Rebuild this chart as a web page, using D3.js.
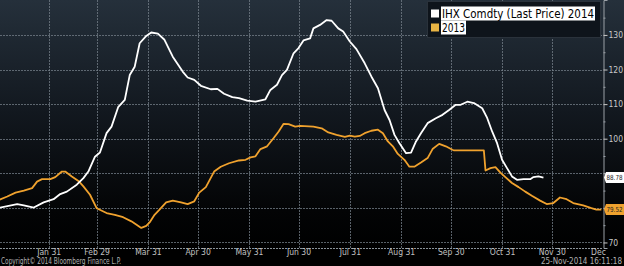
<!DOCTYPE html>
<html>
<head>
<meta charset="utf-8">
<script src="https://cdn.jsdelivr.net/npm/d3@7"></script>
<style>
  html, body { margin: 0; padding: 0; background: #000; }
  svg { display: block; }
  text { font-family: "Liberation Sans Narrow", "Arial Narrow", "DejaVu Sans Condensed", sans-serif; }
</style>
</head>
<body>
<svg id="chart" width="624" height="266"></svg>
<script>
// ---- Data (seasonal axis uses a leap year, hence "Feb 29") ----
const dates2014 = ["01-01","01-12","01-16","01-22","01-28","02-03","02-07","02-11","02-17","02-21","02-24","02-28",
  "03-02","03-06","03-09","03-13","03-17","03-20","03-23","03-26","03-30","04-02","04-06","04-10","04-15","04-21",
  "04-24","04-28","05-02","05-08","05-12","05-16","05-21","05-25","05-30","06-04","06-10","06-13","06-17","06-20",
  "06-23","06-27","06-30","07-03","07-07","07-09","07-13","07-17","07-20","07-24","07-27","07-31","08-04","08-09",
  "08-13","08-17","08-21","08-24","08-27","08-30","09-03","09-06","09-09","09-12","09-16","09-21","09-25","09-29",
  "10-03","10-06","10-10","10-14","10-19","10-22","10-25","10-28","10-31","11-03","11-06","11-09","11-13","11-17",
  "11-19","11-22","11-25"];
const values2014 = [80.0,81.1,80.7,80.1,81.6,82.5,84.0,84.7,86.7,88.6,90.5,94.8,
  96.0,101.6,103.5,109.1,111.2,118.4,120.8,127.6,129.7,130.7,130.4,128.6,123.7,119.4,
  117.7,117.0,115.3,114.3,114.4,113.0,112.0,111.7,111.0,110.7,111.4,114.1,115.6,118.4,
  119.9,124.7,126.2,128.4,129.0,131.9,132.9,134.3,134.1,131.9,131.0,128.1,125.9,121.8,
  118.0,114.6,108.3,105.4,101.1,98.7,95.8,96.0,99.2,101.6,104.5,105.9,106.9,108.3,
  109.8,109.8,110.7,110.3,108.8,106.0,102.1,98.7,93.9,91.5,89.1,88.1,88.3,88.3,
  88.9,89.1,88.78];

const dates2013 = ["01-01","01-06","01-11","01-16","01-21","01-24","01-27","02-01","02-04","02-08","02-10","02-14",
  "02-18","02-21","02-25","02-29","03-06","03-11","03-16","03-21","03-27","03-30","04-01","04-04","04-07","04-11",
  "04-15","04-20","04-24","04-28","05-01","05-05","05-10","05-14","05-19","05-25","05-29","06-01","06-04","06-07",
  "06-11","06-15","06-18","06-21","06-24","06-28","07-01","07-09","07-14","07-18","07-23","07-28","07-31","08-03",
  "08-06","08-09","08-13","08-17","08-20","08-23","08-26","08-29","09-02","09-05","09-08","09-12","09-16","09-19",
  "09-23","09-27","10-01","10-02","10-20","10-21","10-24","10-27","10-30","11-02","11-06","11-10","11-14","11-18",
  "11-23","11-27","12-01","12-05","12-09","12-13","12-19","12-24","12-27","12-30"];
const values2013 = [82.3,83.3,84.4,85.0,85.7,87.6,88.3,88.3,88.9,90.5,90.5,89.1,
  87.8,86.2,83.8,79.9,78.5,78.0,77.3,76.1,74.2,74.8,75.8,78.0,79.5,81.6,
  82.1,81.6,81.1,81.9,84.4,86.0,90.5,91.9,92.9,93.7,93.9,94.6,94.9,97.0,
  97.8,100.2,102.1,104.3,104.2,103.5,103.7,103.5,103.0,101.8,101.1,100.5,100.9,100.6,
  100.8,101.6,102.3,102.6,101.6,99.2,97.8,95.6,93.9,91.9,91.9,93.1,94.4,97.0,
  98.5,97.8,96.8,96.6,96.6,90.8,91.5,91.8,90.2,88.9,87.2,86.0,84.7,83.5,
  82.1,81.1,81.4,83.0,82.5,81.4,80.7,79.9,79.5,79.52];

const xTickDates = ["01-31","02-29","03-31","04-30","05-31","06-30","07-31","08-31","09-30","10-31","11-30","12-31"];
const xTickLabels = ["Jan 31","Feb 29","Mar 31","Apr 30","May 31","Jun 30","Jul 31","Aug 31","Sep 30","Oct 31","Nov 30","Dec"];
const yMajorTicks = [70, 80, 90, 100, 110, 120, 130];
const yLabelTicks = [70, 100, 110, 120, 130];
const yMinorTicks = [75, 85, 95, 105, 115, 125, 135];
const seriesNames = ["IHX Comdty (Last Price) 2014", "2013"];
const seriesColors = ["#ffffff", "#f0a22e"];
const lastLabels = ["88.78", "79.52"];

// ---- Drawing ----
const parse = d3.timeParse("%Y-%m-%d");
const P = s => parse("2012-" + s);
const W = 624, H = 266;
const plotRight = 603, plotBottom = 248;

const svg = d3.select("#chart");

const defs = svg.append("defs");
const grad = defs.append("linearGradient").attr("id", "bg").attr("x1", 0).attr("y1", 0).attr("x2", 0).attr("y2", 1);
grad.append("stop").attr("offset", "0%").attr("stop-color", "#25303b");
grad.append("stop").attr("offset", "45%").attr("stop-color", "#12181f");
grad.append("stop").attr("offset", "85%").attr("stop-color", "#030405");
grad.append("stop").attr("offset", "100%").attr("stop-color", "#000000");

svg.append("rect").attr("width", W).attr("height", H).attr("fill", "#000");
svg.append("rect").attr("x", 0).attr("y", 0).attr("width", W).attr("height", plotBottom).attr("fill", "url(#bg)");

const x = d3.scaleTime().domain([P("01-01"), P("12-31")]).range([-1, plotRight]);
const y = d3.scaleLinear().domain([68.4, 140.1]).range([plotBottom, 0]);

// grid
const grid = svg.append("g");
grid.selectAll("line.h").data(yMajorTicks).join("line")
  .attr("x1", 0).attr("x2", plotRight)
  .attr("y1", d => Math.round(y(d)) + 0.5).attr("y2", d => Math.round(y(d)) + 0.5)
  .attr("stroke", "#76808a").attr("stroke-width", 1).attr("stroke-dasharray", "2,1").attr("opacity", 0.75);
grid.selectAll("line.v").data(xTickDates.slice(0, 11)).join("line")
  .attr("x1", d => Math.round(x(P(d))) + 0.5).attr("x2", d => Math.round(x(P(d))) + 0.5)
  .attr("y1", 0).attr("y2", plotBottom)
  .attr("stroke", "#76808a").attr("stroke-width", 1).attr("stroke-dasharray", "2,1").attr("opacity", 0.75);

// bottom axis line
svg.append("line").attr("x1", 0).attr("x2", plotRight).attr("y1", plotBottom + 0.5).attr("y2", plotBottom + 0.5)
  .attr("stroke", "#8a9299").attr("stroke-dasharray", "2,1");

// right axis
const yAxis = d3.axisRight(y).tickValues(yMajorTicks).tickSize(4).tickFormat(d => yLabelTicks.includes(d) ? d : "");
const ya = svg.append("g").attr("transform", `translate(${plotRight + 0.5},0)`).call(yAxis);
ya.select(".domain").attr("stroke", "#9aa0a6");
ya.selectAll(".tick line").attr("stroke", "#c8c8c8");
ya.selectAll(".tick text").attr("fill", "#c8c8c8").attr("font-size", 8.5).attr("x", 5);
const yMinor = d3.axisRight(y).tickValues(yMinorTicks).tickSize(2).tickFormat("");
const ym = svg.append("g").attr("transform", `translate(${plotRight + 0.5},0)`).call(yMinor);
ym.select(".domain").remove();
ym.selectAll(".tick line").attr("stroke", "#9aa0a6");

// x labels
const xAxis = d3.axisBottom(x).tickValues(xTickDates.map(P)).tickSize(0)
  .tickFormat((d, i) => xTickLabels[i]);
const xa = svg.append("g").attr("transform", `translate(0,${plotBottom})`).call(xAxis);
xa.select(".domain").remove();
xa.selectAll(".tick text").attr("fill", "#c0c0c0").attr("font-size", 8.5).attr("dy", null).attr("y", 6.5);
xa.selectAll(".tick").filter((d, i) => i === 11).select("text").attr("x", -5);

// lines
const line = d3.line().x(d => x(d[0])).y(d => y(d[1]));
const s2013 = dates2013.map((d, i) => [P(d), values2013[i]]);
const s2014 = dates2014.map((d, i) => [P(d), values2014[i]]);
svg.append("path").datum(s2013).attr("d", line).attr("fill", "none")
  .attr("stroke", seriesColors[1]).attr("stroke-width", 1.8).attr("stroke-linejoin", "round");
svg.append("path").datum(s2014).attr("d", line).attr("fill", "none")
  .attr("stroke", seriesColors[0]).attr("stroke-width", 1.8).attr("stroke-linejoin", "round");

// last value labels
function valueTag(val, txt, fill) {
  const yy = y(val);
  const g = svg.append("g");
  g.append("path").attr("d", `M${plotRight + 1},${yy} L${plotRight + 3},${yy - 5.5} L${W},${yy - 5.5} L${W},${yy + 5.5} L${plotRight + 3},${yy + 5.5} Z`)
    .attr("fill", fill);
  g.append("text").attr("x", plotRight + 3.5).attr("y", yy).attr("dy", "0.35em")
    .attr("font-size", 7).attr("fill", "#222")
    .attr("textLength", 16).attr("lengthAdjust", "spacingAndGlyphs").text(txt);
}
valueTag(values2014[values2014.length - 1], lastLabels[0], "#ffffff");
valueTag(values2013[values2013.length - 1], lastLabels[1], seriesColors[1]);

// legend
const lg = svg.append("g");
lg.append("rect").attr("x", 427.5).attr("y", 1.5).attr("width", 173).attr("height", 36)
  .attr("fill", "#0e141b").attr("stroke", "#2a323b");
const legY = [13.5, 27.5];
const legW = [154, 25];
seriesNames.forEach((name, i) => {
  lg.append("rect").attr("x", 431).attr("y", legY[i] - 4).attr("width", 8).attr("height", 8)
    .attr("fill", i === 0 ? "#ffffff" : "#e8b444");
  lg.append("rect").attr("x", 441).attr("y", legY[i] - 7).attr("width", legW[i]).attr("height", 14).attr("fill", "#ffffff");
  lg.append("text").attr("x", 442).attr("y", legY[i]).attr("dy", "0.36em")
    .attr("font-size", 13).attr("fill", "#000")
    .attr("textLength", legW[i] - 2).attr("lengthAdjust", "spacingAndGlyphs").text(name);
});

// footer
svg.append("text").attr("x", 1).attr("y", 264).attr("font-size", 8)
  .attr("fill", "#b0b0b0").attr("textLength", 120).attr("lengthAdjust", "spacingAndGlyphs")
  .text("Copyright© 2014 Bloomberg Finance L.P.");
svg.append("text").attr("x", 622).attr("y", 264).attr("font-size", 8)
  .attr("text-anchor", "end").attr("fill", "#b0b0b0").text("25-Nov-2014 16:11:18");
</script>
</body>
</html>
